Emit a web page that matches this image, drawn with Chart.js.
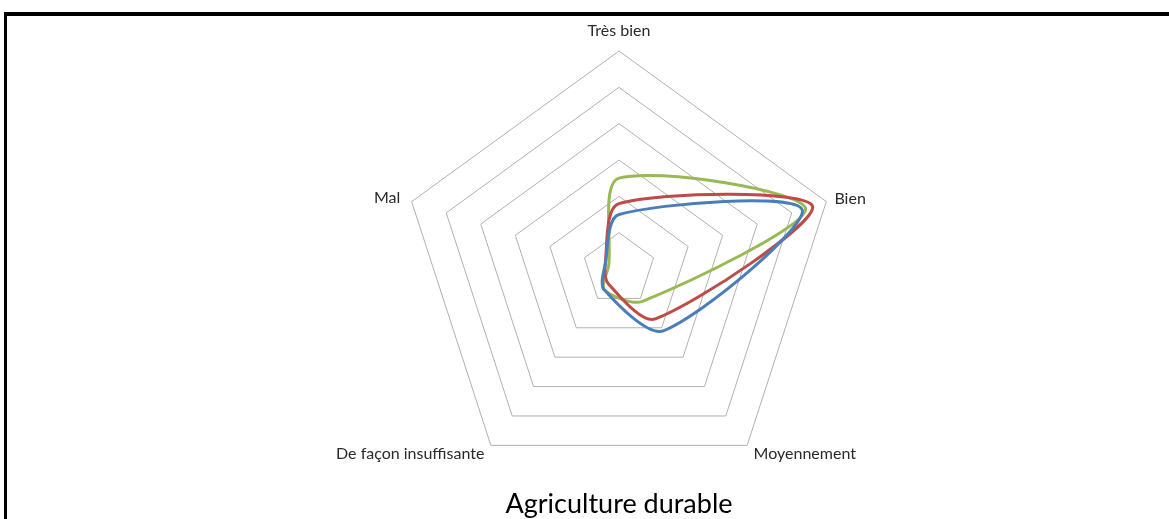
<!DOCTYPE html>
<html lang="fr">
<head>
<meta charset="utf-8">
<title>Agriculture durable</title>
<script src="https://cdn.jsdelivr.net/npm/chart.js@4.4.1/dist/chart.umd.min.js"></script>
<style>
  html, body { margin: 0; padding: 0; background: #fff; }
  #wrap { position: relative; width: 1169px; height: 519px; overflow: hidden; }
  #frame {
    position: absolute; left: 4px; top: 12px; right: 0; bottom: 0;
    border-top: 4px solid #000; border-left: 3px solid #000;
  }
  #c { position: absolute; left: 0; top: 0; }
</style>
</head>
<body>
<div id="wrap">
  <div id="frame"></div>
  <canvas id="c" width="1169" height="519"></canvas>
</div>
<script>
// Axes du radar (sens horaire, à partir du haut)
const categories = ['Très bien', 'Bien', 'Moyennement', 'De façon insuffisante', 'Mal'];

// Répartition des réponses, en %
const serieBleue = [15, 53, 21, 7, 4];
const serieRouge = [18, 56, 17, 5, 4];
const serieVerte = [25, 54, 11, 7, 3];

// Graduations de l'échelle radiale
const tickValues = [0, 10, 20, 30, 40, 50, 60];

// Écart entre chaque libellé et le sommet du polygone
const labelPadding = [20, 8.5, 11, 11, 12];
const labelLineHeight = ['1px', 0, 0, 0, 0];

const FONT = 'Lato, "Open Sans", sans-serif';

new Chart(document.getElementById('c'), {
  type: 'radar',
  data: {
    labels: categories,
    datasets: [
      { label: 'Série 1', data: serieBleue, borderColor: '#4A7EBB' },
      { label: 'Série 2', data: serieRouge, borderColor: '#BE4B48' },
      { label: 'Série 3', data: serieVerte, borderColor: '#98B954' }
    ]
  },
  options: {
    responsive: false,
    animation: false,
    layout: { padding: { top: 20, left: 69, right: 0, bottom: 0 } },
    elements: {
      line: { borderWidth: 3, tension: 0.28, fill: false },
      point: { radius: 0, hoverRadius: 0 }
    },
    plugins: {
      legend: { display: false },
      tooltip: { enabled: false },
      title: {
        display: true,
        text: 'Agriculture durable',
        position: 'bottom',
        color: '#000',
        font: { family: FONT, size: 27, weight: 'normal', lineHeight: 0.5 },
        padding: { top: 0, bottom: 7.5 }
      }
    },
    scales: {
      r: {
        min: tickValues[0],
        max: tickValues[tickValues.length - 1],
        ticks: { display: false, stepSize: tickValues[1] - tickValues[0] },
        angleLines: { display: false },
        grid: { color: '#b0b0b0', lineWidth: 1, circular: false },
        pointLabels: {
          color: '#2a2a2a',
          padding: ctx => labelPadding[ctx.index],
          font: ctx => ({ family: FONT, size: 16, lineHeight: labelLineHeight[ctx.index] })
        }
      }
    }
  }
});
</script>
</body>
</html>
